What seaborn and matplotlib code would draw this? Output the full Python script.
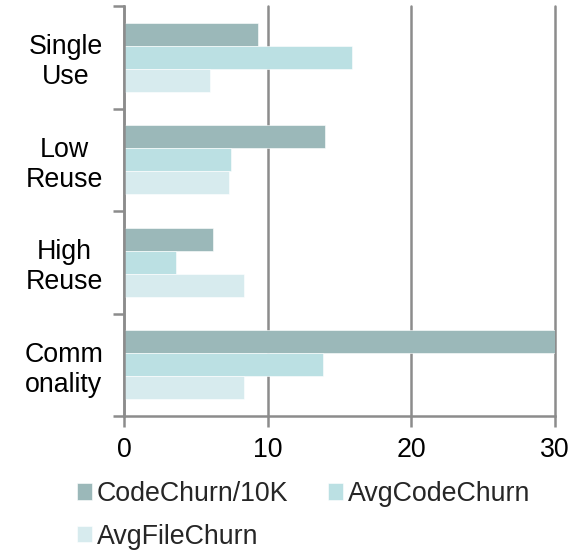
import matplotlib
matplotlib.use("Agg")
import matplotlib.pyplot as plt
import seaborn as sns
import pandas as pd

categories = ["Single\nUse", "Low\nReuse", "High\nReuse", "Comm\nonality"]
code_churn_10k = [9.3, 14.0, 6.2, 30.0]
avg_code_churn = [15.85, 7.45, 3.6, 13.85]
avg_file_churn = [6.0, 7.3, 8.35, 8.35]
series_names = ["CodeChurn/10K", "AvgCodeChurn", "AvgFileChurn"]
x_ticks = [0, 10, 20, 30]

colors = ["#9bb8b9", "#bbe0e3", "#d7ebee"]

df = pd.DataFrame({
    "category": categories * 3,
    "series": [s for s in series_names for _ in categories],
    "value": code_churn_10k + avg_code_churn + avg_file_churn,
})

sns.set_theme(style="white")
plt.rcParams["font.family"] = ["Liberation Sans", "DejaVu Sans"]
FS = 19.3

fig = plt.figure(figsize=(5.85, 5.5), dpi=100)
ax = fig.add_axes([124 / 585, 1 - 416 / 550, (555 - 124) / 585, (416 - 6) / 550])

sns.barplot(data=df, y="category", x="value", hue="series", orient="h",
            palette=colors, width=0.67, ax=ax, errorbar=None,
            edgecolor="white", linewidth=0.4, saturation=1, legend=True)

grid_color = "#8c8c8c"
ax.set_xlim(0, 30)
ax.set_ylim(3.5, -0.5)
ax.set_xticks(x_ticks)
ax.set_xticklabels([str(t) for t in x_ticks])
ax.set_axisbelow(True)
ax.xaxis.grid(True, color=grid_color, linewidth=1.8)
ax.yaxis.grid(False)
for gl in ax.get_xgridlines():
    gl.set_clip_on(False)

# category boundaries carry the y ticks
ax.set_yticks([-0.5, 0.5, 1.5, 2.5, 3.5])
ax.set_yticklabels([])
ax.set_yticks([0, 1, 2, 3], minor=True)
ax.set_yticklabels(categories, minor=True, multialignment="center")
ax.tick_params(axis="y", which="major", length=8, width=1.8, color=grid_color, direction="out", left=True)
ax.tick_params(axis="y", which="minor", length=0, pad=15, labelsize=FS, labelcolor="black")
ax.tick_params(axis="x", length=8, width=1.8, color=grid_color, direction="out", bottom=True,
               labelsize=FS, labelcolor="black", pad=7)

for side in ["top", "right"]:
    ax.spines[side].set_visible(False)
for side in ["left", "bottom"]:
    ax.spines[side].set_color(grid_color)
    ax.spines[side].set_linewidth(1.8)

ax.set_xlabel("")
ax.set_ylabel("")

handles, labels = ax.get_legend_handles_labels()
ax.get_legend().remove()
# legend fills columns first; order entries so they read across rows
order = [0, 2, 1]
fig.legend([handles[i] for i in order], [labels[i] for i in order],
           loc="upper left", bbox_to_anchor=(77 / 585, 1 - 481 / 550),
           ncol=2, frameon=False, fontsize=FS, handlelength=0.55, handleheight=0.55,
           handletextpad=0.2, columnspacing=1.47, labelspacing=0.63, borderpad=0,
           borderaxespad=0)

fig.savefig("out.png", dpi=100, facecolor="white")
